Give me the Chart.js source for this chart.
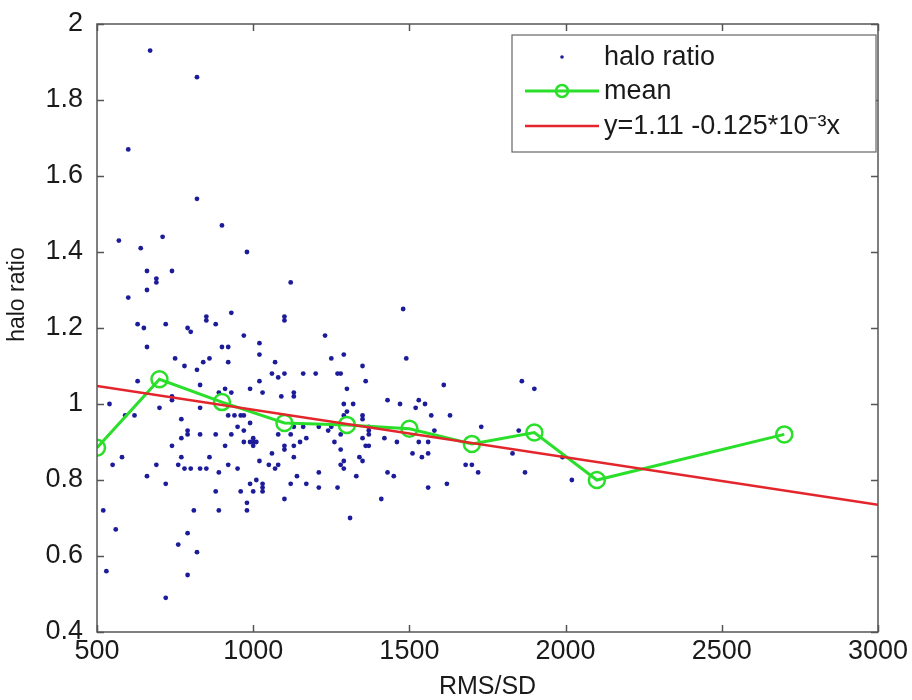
<!DOCTYPE html>
<html>
<head>
<meta charset="utf-8">
<title>halo ratio vs RMS/SD</title>
<script src="https://cdn.jsdelivr.net/npm/chart.js@4.4.1/dist/chart.umd.min.js"></script>
<style>
  html, body { margin: 0; padding: 0; background: #fff; }
  #wrap { width: 912px; height: 700px; }
</style>
</head>
<body>
<div id="wrap"><canvas id="haloChart" width="912" height="700"></canvas></div>
<script>
/************************************************************
    halo ratio against RMS/SD (scatter, bin means, fit)
*************************************************************/

// scatter: RMS/SD values
var haloX = [670, 820, 600, 820, 900, 570, 640, 710, 980, 660, 740, 690, 690, 660, 600, 1120, 930, 850, 850, 1100,
  1100, 630, 650, 720, 790, 800, 880, 970, 1230, 660, 900, 920, 1020, 1020, 750, 780, 820, 840, 860, 920,
  1070, 1100, 1060, 1080, 1160, 1200, 630, 1020, 830, 910, 990, 890, 930, 1030, 1130, 1130, 1090, 740, 740, 540,
  700, 830, 590, 620, 920, 940, 960, 970, 990, 770, 950, 1130, 1160, 1210, 1240, 790, 790, 830, 880, 930,
  970, 1000, 1000, 990, 1010, 1000, 970, 1080, 1120, 1170, 1150, 1130, 1100, 1100, 1130, 740, 770, 910, 580, 550,
  690, 660, 770, 760, 780, 800, 830, 850, 860, 890, 920, 950, 1020, 1060, 1050, 1070, 1080, 1140, 1120, 1170,
  1210, 1210, 720, 880, 960, 990, 1010, 1030, 1000, 1030, 1030, 980, 980, 890, 810, 1100, 520, 560, 790, 760,
  820, 530, 790, 720, 1480, 1490, 1250, 1290, 1350, 1270, 1280, 1360, 1300, 1610, 1860, 1900, 1430, 1470, 1530, 1550,
  1520, 1570, 1630, 1290, 1320, 1300, 1290, 1350, 1350, 1370, 1370, 1580, 1730, 1850, 1250, 1280, 1350, 1370, 1260, 1360,
  1370, 1420, 1460, 1530, 1560, 1280, 1290, 1280, 1340, 1350, 1290, 1330, 1270, 1430, 1450, 1410, 1310, 1510, 1540, 1560,
  1560, 1620, 1680, 1700, 1720, 1830, 1870, 1990, 2020];

// scatter: halo ratio values
var haloY = [1.93, 1.86, 1.67, 1.54, 1.47, 1.43, 1.41, 1.44, 1.40, 1.35, 1.35, 1.33, 1.32, 1.30, 1.28, 1.32, 1.24, 1.23, 1.22, 1.23,
  1.22, 1.21, 1.20, 1.21, 1.20, 1.19, 1.21, 1.18, 1.18, 1.15, 1.15, 1.15, 1.16, 1.13, 1.12, 1.10, 1.09, 1.11, 1.12, 1.11,
  1.11, 1.08, 1.08, 1.07, 1.08, 1.08, 1.06, 1.06, 1.05, 1.04, 1.04, 1.03, 1.03, 1.03, 1.03, 1.02, 1.02, 1.02, 1.01, 1.00,
  0.99, 0.99, 0.97, 0.97, 0.97, 0.97, 0.97, 0.97, 0.95, 0.96, 0.94, 0.94, 0.94, 0.94, 0.93, 0.93, 0.92, 0.92, 0.92, 0.92,
  0.93, 0.91, 0.89, 0.90, 0.90, 0.90, 0.90, 0.92, 0.92, 0.91, 0.90, 0.89, 0.89, 0.88, 0.86, 0.89, 0.91, 0.89, 0.86, 0.84,
  0.84, 0.81, 0.86, 0.84, 0.83, 0.83, 0.83, 0.83, 0.86, 0.82, 0.84, 0.83, 0.85, 0.87, 0.84, 0.83, 0.84, 0.81, 0.79, 0.79,
  0.82, 0.78, 0.79, 0.77, 0.77, 0.79, 0.80, 0.79, 0.77, 0.78, 0.77, 0.74, 0.72, 0.72, 0.72, 0.75, 0.72, 0.67, 0.66, 0.63,
  0.61, 0.56, 0.55, 0.49, 1.25, 1.12, 1.12, 1.13, 1.10, 1.08, 1.08, 1.06, 1.04, 1.05, 1.06, 1.04, 1.01, 1.00, 1.01, 1.00,
  0.99, 0.97, 0.97, 1.00, 1.00, 0.98, 0.97, 0.97, 0.96, 0.94, 0.93, 0.93, 0.94, 0.93, 0.94, 0.92, 0.91, 0.92, 0.90, 0.89,
  0.89, 0.91, 0.90, 0.90, 0.90, 0.88, 0.85, 0.84, 0.86, 0.85, 0.83, 0.81, 0.78, 0.82, 0.81, 0.75, 0.70, 0.87, 0.86, 0.87,
  0.78, 0.79, 0.84, 0.84, 0.82, 0.87, 0.82, 0.86, 0.80];

// mean per RMS/SD bin
var meanX = [500, 700, 900, 1100, 1300, 1500, 1700, 1900, 2100, 2700];
var meanY = [0.885, 1.065, 1.005, 0.95, 0.945, 0.935, 0.895, 0.925, 0.80, 0.92];

// linear fit y = 1.11 - 0.125e-3 x, end points
var fitX = [500, 3000];
var fitY = [1.0475, 0.735];

var xTicks = [500, 1000, 1500, 2000, 2500, 3000];
var yTicks = [0.4, 0.6, 0.8, 1, 1.2, 1.4, 1.6, 1.8, 2];

var FONT = '"Liberation Sans", Arial, Helvetica, sans-serif';

function toPoints(xs, ys) {
  return xs.map(function (x, i) { return { x: x, y: ys[i] }; });
}

// axes box, inward ticks, y label and the in-plot legend (matlab look)
var matlabAxes = {
  id: 'matlabAxes',
  afterDraw: function (chart) {
    var ctx = chart.ctx, a = chart.chartArea;
    var xs = chart.scales.x, ys = chart.scales.y;
    ctx.save();
    ctx.strokeStyle = '#555';
    ctx.lineWidth = 1.5;
    ctx.beginPath();
    xTicks.forEach(function (v) {
      var px = Math.round(xs.getPixelForValue(v)) + 0.5;
      ctx.moveTo(px, a.bottom); ctx.lineTo(px, a.bottom - 7);
      ctx.moveTo(px, a.top); ctx.lineTo(px, a.top + 7);
    });
    yTicks.forEach(function (v) {
      var py = Math.round(ys.getPixelForValue(v)) + 0.5;
      ctx.moveTo(a.left, py); ctx.lineTo(a.left + 7, py);
      ctx.moveTo(a.right, py); ctx.lineTo(a.right - 7, py);
    });
    ctx.stroke();
    ctx.strokeRect(a.left, a.top, a.right - a.left, a.bottom - a.top);

    // y axis label, sits a bit above the middle like the original
    ctx.save();
    ctx.translate(18, a.top + (a.bottom - a.top) * 0.445);
    ctx.rotate(-Math.PI / 2);
    ctx.fillStyle = '#1a1a1a';
    ctx.font = '23px ' + FONT;
    ctx.textAlign = 'center';
    ctx.textBaseline = 'middle';
    ctx.fillText('halo ratio', 0, 0);
    ctx.restore();

    // legend
    var lx = a.right - 366, ly = a.top + 11, lw = 364, lh = 117;
    ctx.fillStyle = '#fff';
    ctx.fillRect(lx, ly, lw, lh);
    ctx.strokeStyle = '#666';
    ctx.lineWidth = 1.2;
    ctx.strokeRect(lx, ly, lw, lh);

    var ds = chart.data.datasets;
    var rows = [ly + 22, ly + 56, ly + 91];
    var sx0 = lx + 13, sx1 = lx + 87, sxm = (sx0 + sx1) / 2;
    ds.forEach(function (d, i) {
      var y = rows[i];
      if (d.showLine) {
        ctx.strokeStyle = d.borderColor;
        ctx.lineWidth = d.borderWidth;
        ctx.beginPath(); ctx.moveTo(sx0, y); ctx.lineTo(sx1, y); ctx.stroke();
      }
      if (d.pointRadius > 0) {
        ctx.beginPath();
        ctx.arc(sxm, y, i === 0 ? 1.8 : 6, 0, Math.PI * 2);
        if (i === 0) { ctx.fillStyle = d.backgroundColor; ctx.fill(); }
        else { ctx.strokeStyle = d.pointBorderColor; ctx.lineWidth = d.pointBorderWidth; ctx.stroke(); }
      }
      ctx.fillStyle = '#1a1a1a';
      ctx.font = '27px ' + FONT;
      ctx.textBaseline = 'middle';
      ctx.textAlign = 'left';
      ctx.fillText(d.label, lx + 92, y + 1);
    });
    ctx.restore();
  }
};

new Chart(document.getElementById('haloChart'), {
  type: 'scatter',
  data: {
    datasets: [
      {
        label: 'halo ratio',
        data: toPoints(haloX, haloY),
        backgroundColor: '#1c1c9a',
        borderColor: '#1c1c9a',
        pointRadius: 2.4,
        pointBorderWidth: 0,
        showLine: false,
        order: 3
      },
      {
        label: 'mean',
        data: toPoints(meanX, meanY),
        showLine: true,
        borderColor: '#2adf2a',
        borderWidth: 3,
        pointRadius: 8,
        pointBorderColor: '#2adf2a',
        pointBorderWidth: 2.5,
        pointBackgroundColor: 'rgba(0,0,0,0)',
        order: 2
      },
      {
        label: 'y=1.11 -0.125*10\u207B\u00B3x',
        data: toPoints(fitX, fitY),
        showLine: true,
        borderColor: '#e3262c',
        borderWidth: 2.5,
        pointRadius: 0,
        order: 1
      }
    ]
  },
  options: {
    responsive: false,
    animation: false,
    layout: { padding: { top: 24, right: 34, left: 0, bottom: 0 } },
    plugins: {
      legend: { display: false },
      tooltip: { enabled: false }
    },
    scales: {
      x: {
        type: 'linear',
        min: 500,
        max: 3000,
        afterBuildTicks: function (s) { s.ticks = xTicks.map(function (v) { return { value: v }; }); },
        afterFit: function (s) { s.height = 68; },
        grid: { display: false, drawTicks: false },
        border: { display: false },
        ticks: {
          padding: 3,
          color: '#1a1a1a',
          font: { family: FONT, size: 27 },
          maxRotation: 0,
          callback: function (v) { return String(v); }
        },
        title: {
          display: true,
          text: 'RMS/SD',
          color: '#1a1a1a',
          font: { family: FONT, size: 25, lineHeight: 1 },
          padding: 0
        }
      },
      y: {
        type: 'linear',
        min: 0.4,
        max: 2,
        afterBuildTicks: function (s) { s.ticks = yTicks.map(function (v) { return { value: v }; }); },
        afterFit: function (s) { s.width = 97; s.paddingTop = 0; s.paddingBottom = 0; },
        grid: { display: false, drawTicks: false },
        border: { display: false },
        ticks: {
          padding: 14,
          color: '#1a1a1a',
          font: { family: FONT, size: 27 },
          callback: function (v) { return String(Math.round(v * 10) / 10); }
        }
      }
    }
  },
  plugins: [matlabAxes]
});
</script>
</body>
</html>
